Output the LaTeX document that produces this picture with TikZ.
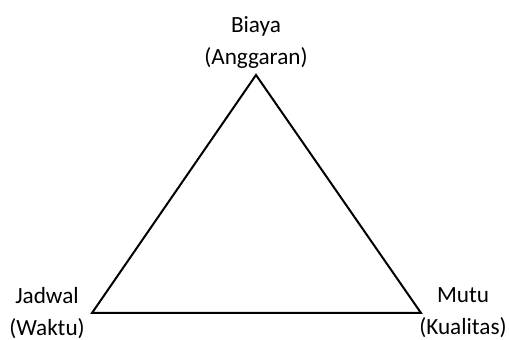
\documentclass[tikz,border=0pt]{standalone}
\usepackage{fontspec}
\setmainfont{Carlito}
\usepackage{tikz}
\usetikzlibrary{positioning}

\tikzset{
    sidelabel/.style={align=center, font=\fontsize{11.6}{16}\selectfont, inner sep=0pt},
    edge/.style={black, line width=1pt, line join=miter}
}

\begin{document}
\begin{tikzpicture}[x=0.5pt, y=-0.5pt]
    \useasboundingbox (0,0) rectangle (509,340);
    % corners of the triangle
    \coordinate (top) at (256,75);
    \coordinate (left) at (92,313);
    \coordinate (right) at (421,313);
    \draw[edge] (top) -- (left) -- (right) -- cycle;
    % corner labels
    \node[sidelabel] (biaya) at (256,43) {Biaya\\(Anggaran)};
    \node[sidelabel] (jadwal) at (47,313) {Jadwal\\(Waktu)};
    \node[sidelabel] (mutu) at (463,313) {Mutu\\(Kualitas)};
\end{tikzpicture}
\end{document}
